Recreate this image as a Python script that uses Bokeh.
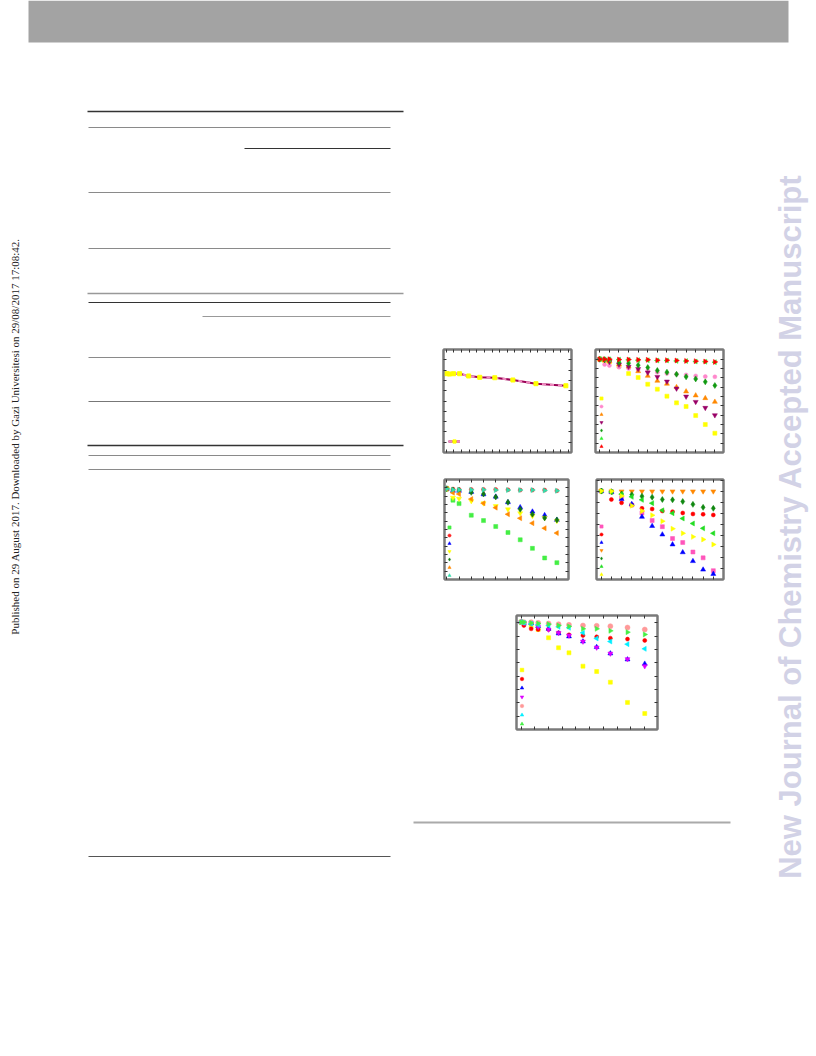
import math
from bokeh.plotting import figure
from bokeh.models import (Range1d, LinearAxis, FixedTicker, Legend, LegendItem,
                          Spacer, CustomJSTickFormatter)
from bokeh.layouts import column, row
from bokeh.embed import file_html
from bokeh.resources import INLINE
from bokeh.core.properties import value

# ---------------- data ----------------
# panel 1
p1_x = [0.09, 0.44, 0.96, 1.75, 2.94, 4.39, 6.36, 8.73, 11.75, 15.66]
p1_y = [0.765, 0.762, 0.765, 0.765, 0.743, 0.730, 0.726, 0.704, 0.668, 0.648]

# panel 2
p2_x = [0, 0.5, 1, 2, 3, 4, 5, 6, 7, 8, 9, 10, 11, 12]
p2_yellow = [100, 98.6, 97.1, 92.5, 84.6, 80.4, 73.2, 67.9, 60.4, 53.2, 49.3, 39.6, 30.0, 20.7]
p2_pink = [100, 94.3, 93.2, 91.4, 90.0, 88.9, 87.5, 86.0, 84.6, 83.9, 83.2, 82.1, 81.4, 81.1]
p2_orange = [100, 99.0, 97.9, 94.3, 92.1, 87.1, 82.1, 76.8, 73.6, 70.0, 65.4, 61.1, 58.2, 54.3]
p2_purple = [100, 99.0, 97.1, 94.3, 92.0, 89.6, 85.7, 81.1, 76.1, 68.6, 60.0, 54.3, 47.9, 40.0]
p2_dkgreen = [100, 99.6, 99.3, 96.8, 95.7, 93.6, 91.1, 87.9, 86.1, 83.9, 81.1, 78.9, 75.7, 71.8]
p2_ltgreen = [100, 99.8, 99.8, 99.6, 99.3, 99.0, 98.9, 98.6, 98.6, 98.2, 98.0, 97.5, 97.3, 96.8]
p2_red = [100, 100, 100, 99.6, 99.6, 99.3, 99.3, 98.9, 98.9, 98.6, 98.2, 97.9, 97.5, 97.1]

# panel 3
p3_x = [0, 0.5, 1, 2, 3, 4, 5, 6, 7, 8, 9]
p3_ltgreen = [10.87, 9.50, 9.09, 7.70, 7.06, 6.35, 5.63, 4.76, 3.73, 2.58, 2.02]
p3_red = [10.87, 10.83, 10.79, 10.79, 10.79, 10.79, 10.75, 10.71, 10.71, 10.71, 10.63]
p3_blue = [10.87, 10.63, 10.63, 10.48, 10.20, 9.92, 9.25, 8.65, 8.13, 7.70, 7.14]
p3_yellow = [10.87, 9.80, 9.68, 9.40, 9.13, 8.80, 8.41, 7.94, 7.62, 7.38, 7.02]
p3_dkgreen = [10.87, 10.71, 10.67, 10.44, 10.24, 9.88, 9.25, 8.41, 7.82, 7.38, 7.14]
p3_orange = [10.87, 10.40, 10.24, 9.64, 9.13, 8.61, 7.82, 7.34, 6.75, 6.15, 5.56]
p3_teal = [10.87, 10.75, 10.75, 10.75, 10.75, 10.71, 10.71, 10.71, 10.71, 10.67, 10.63]

# panel 4
p4_x = [0, 1, 2, 3, 4, 5, 6, 7, 8, 9, 10, 11]
p4_pink = [8.0, 7.92, 7.39, 6.74, 6.02, 5.34, 4.78, 3.71, 3.35, 2.49, 1.96, 0.80]
p4_red = [8.0, 7.24, 6.94, 6.74, 6.44, 6.38, 6.20, 6.14, 6.02, 5.93, 5.90, 5.84]
p4_blue = [8.0, 7.92, 7.27, 6.83, 5.67, 4.84, 4.07, 3.17, 2.46, 1.66, 0.89, 0.50]
p4_orange = [8.0, 7.98, 7.98, 7.98, 7.98, 7.98, 7.98, 7.98, 7.98, 7.98, 7.98, 7.98]
p4_dkgreen = [8.0, 7.95, 7.74, 7.68, 7.54, 7.45, 7.24, 7.21, 7.06, 6.80, 6.53, 6.44]
p4_ltgreen = [8.0, 7.92, 7.72, 7.48, 7.21, 6.91, 6.26, 5.99, 5.52, 5.07, 4.63, 4.18]
p4_yellow = [8.0, 7.98, 7.56, 6.68, 6.20, 5.82, 5.28, 4.60, 4.18, 3.86, 3.62, 3.17]

# panel 5
p5_x = [0, 0.2, 0.73, 1.24, 2, 2.73, 3.49, 4.51, 5.51, 6.51, 7.76, 9.02]
p5_yellow = [8.05, 8.0, 7.78, 7.5, 6.88, 6.13, 5.75, 4.75, 4.35, 3.55, 2.03, 1.20]
p5_red = [8.05, 7.8, 7.55, 7.5, 7.5, 7.25, 7.1, 7.05, 6.95, 6.85, 6.78, 6.68]
p5_blue = [8.05, 8.0, 7.98, 7.75, 7.55, 7.2, 6.98, 6.6, 6.18, 5.7, 5.25, 4.93]
p5_magenta = [8.05, 8.0, 7.98, 7.7, 7.5, 7.25, 7.05, 6.6, 6.15, 5.7, 5.28, 4.75]
p5_salmon = [8.05, 8.05, 8.05, 8.0, 7.95, 7.9, 7.85, 7.8, 7.78, 7.75, 7.65, 7.5]
p5_cyan = [8.05, 8.0, 7.93, 7.85, 7.8, 7.7, 7.63, 7.25, 6.83, 6.6, 6.4, 6.05]
p5_ltgreen = [8.05, 8.05, 7.98, 7.95, 7.9, 7.8, 7.73, 7.55, 7.55, 7.4, 7.3, 7.13]

side_note = "Published on 29 August 2017. Downloaded by Gazi Universitesi on 29/08/2017 17:08:42."
watermark = "New Journal of Chemistry Accepted Manuscript"

# ---------------- helpers ----------------
RT = -math.pi / 2   # right pointing triangle
LT = math.pi / 2    # left pointing triangle


def panel(width, height, borders, xr, yr, xticks, yticks):
    l, r, t, b = borders
    p = figure(width=width, height=height, x_range=Range1d(*xr), y_range=Range1d(*yr),
               output_backend="svg", toolbar_location=None, tools="",
               min_border_left=l, min_border_right=r, min_border_top=t, min_border_bottom=b)
    p.add_layout(LinearAxis(), "above")
    p.add_layout(LinearAxis(), "right")
    for ax in p.xaxis:
        ax.ticker = FixedTicker(ticks=xticks)
    for ax in p.yaxis:
        ax.ticker = FixedTicker(ticks=yticks)
    for ax in p.axis:
        ax.formatter = CustomJSTickFormatter(code="return ''")
        ax.major_label_standoff = 0
        ax.major_label_text_font_size = "1px"
        ax.major_tick_in = 3
        ax.major_tick_out = 0
        ax.minor_tick_in = 0
        ax.minor_tick_out = 0
        ax.axis_line_color = "#7a7a7a"
        ax.axis_line_width = 2
        ax.major_tick_line_color = "#333333"
    p.xgrid.visible = False
    p.ygrid.visible = False
    p.outline_line_color = "#7a7a7a"
    p.outline_line_width = 2
    p.background_fill_color = "white"
    p.border_fill_color = "white"
    return p


def add_series(p, x, specs, loc, gh):
    items = []
    for ys, color, marker, ang, sz in specs:
        r = p.scatter(x, ys, marker=marker, angle=ang, size=sz,
                      fill_color=color, line_color=color, line_width=0.5)
        items.append(LegendItem(label="", renderers=[r]))
    lg = Legend(items=items, location=loc, glyph_width=gh, glyph_height=gh,
                label_height=gh, label_width=0, label_standoff=0, spacing=0,
                padding=0, margin=0, border_line_color=None,
                background_fill_alpha=0, label_text_font_size="6px")
    p.add_layout(lg)


# ---------------- panel 1 ----------------
f1 = panel(170, 130, (33, 9, 14, 13), (-0.35, 16.4), (0, 1),
           list(range(0, 17)), [i / 10 for i in range(1, 10)])
l1 = f1.line(p1_x, p1_y, line_color="#990055", line_width=2)
l2 = f1.line(p1_x, p1_y, line_color="#f08cc0", line_width=2, line_dash="4 4")
s1 = f1.scatter(p1_x, p1_y, marker="square", size=4, fill_color="#ffff00", line_color="#ffff00")
lg1 = Legend(items=[LegendItem(label="", renderers=[l1, l2, s1])], location=(5, 7),
             glyph_width=12, glyph_height=8, label_height=8, label_width=0,
             label_standoff=0, spacing=0, padding=0, margin=0, border_line_color=None,
             background_fill_alpha=0, label_text_font_size="6px")
f1.add_layout(lg1)

# ---------------- panel 2 ----------------
f2 = panel(150, 130, (15, 7, 14, 13), (-0.45, 12.9), (0, 110.4),
           list(range(0, 13)), list(range(10, 101, 10)))
add_series(f2, p2_x, [
    (p2_yellow, "#ffff00", "square", 0, 4),
    (p2_pink, "#ff88cc", "circle", 0, 4),
    (p2_orange, "#ff8800", "triangle", 0, 5),
    (p2_purple, "#990066", "inverted_triangle", 0, 5),
    (p2_dkgreen, "#119911", "diamond", 0, 6),
    (p2_ltgreen, "#33ee33", "triangle", LT, 5),
    (p2_red, "#ff0000", "triangle", RT, 5),
], (2, 2), 8)

# ---------------- panel 3 ----------------
f3 = panel(170, 135, (34, 12, 14, 20), (-0.19, 9.95), (0, 11.98),
           list(range(0, 10)), list(range(1, 12)))
add_series(f3, p3_x, [
    (p3_ltgreen, "#44ee44", "square", 0, 4),
    (p3_red, "#ff2222", "circle", 0, 4),
    (p3_blue, "#0000ff", "triangle", 0, 5),
    (p3_yellow, "#ffff00", "inverted_triangle", 0, 5),
    (p3_dkgreen, "#117711", "diamond", 0, 6),
    (p3_orange, "#ff8800", "triangle", LT, 5),
    (p3_teal, "#33ddaa", "triangle", RT, 5),
], (1, 0), 8)

# ---------------- panel 4 ----------------
f4 = panel(150, 135, (16, 7, 12, 21), (-0.46, 12.0), (0, 9.05),
           list(range(0, 12)), list(range(1, 10)))
add_series(f4, p4_x, [
    (p4_pink, "#ff55bb", "square", 0, 4),
    (p4_red, "#ff0000", "circle", 0, 4),
    (p4_blue, "#0000ff", "triangle", 0, 5),
    (p4_orange, "#ff8800", "inverted_triangle", 0, 5),
    (p4_dkgreen, "#118811", "diamond", 0, 6),
    (p4_ltgreen, "#22dd22", "triangle", LT, 5),
    (p4_yellow, "#ffff00", "triangle", RT, 5),
], (1, 1), 8)

# ---------------- panel 5 ----------------
f5 = panel(170, 150, (16, 13, 15, 21), (-0.34, 9.95), (0, 8.55),
           list(range(0, 10)), list(range(1, 9)))
add_series(f5, p5_x, [
    (p5_yellow, "#ffff00", "square", 0, 4),
    (p5_red, "#ff0000", "circle", 0, 4),
    (p5_blue, "#0000ff", "triangle", 0, 5),
    (p5_magenta, "#dd00ff", "inverted_triangle", 0, 5),
    (p5_salmon, "#ff9999", "circle", 0, 5),
    (p5_cyan, "#00eeff", "triangle", LT, 5),
    (p5_ltgreen, "#44ee44", "triangle", RT, 5),
], (1, 1), 9)


# ---------------- page decoration ----------------
def canvas(w, h, xr, yr, **kw):
    c = figure(width=w, height=h, x_range=Range1d(*xr), y_range=Range1d(*yr),
               output_backend="svg", toolbar_location=None, tools="",
               min_border=0, **kw)
    c.axis.visible = False
    c.xgrid.visible = False
    c.ygrid.visible = False
    c.outline_line_color = None
    c.background_fill_color = "white"
    c.border_fill_color = "white"
    return c


header = canvas(816, 43, (0, 816), (43, 0))
header.quad(left=[28], right=[788], top=[0], bottom=[42], fill_color="#a3a3a3", line_color=None)

left = canvas(410, 1005, (0, 410), (1048, 43))
rule_x0 = [87, 88, 244, 88, 88, 87, 88, 202, 88, 88, 87, 88, 88, 88]
rule_x1 = [403, 390, 390, 390, 390, 403, 390, 390, 390, 390, 403, 390, 390, 390]
rule_y = [111, 127, 148, 192, 248, 293, 302, 316, 357, 401, 445, 455, 469, 856]
rule_c = ["#333333", "#8a8a8a", "#333333", "#8a8a8a", "#8a8a8a", "#999999", "#333333",
          "#999999", "#8a8a8a", "#777777", "#333333", "#8a8a8a", "#8a8a8a", "#555555"]
rule_w = [1.5, 1, 1, 1, 1, 1.5, 1, 1, 1, 1, 1.5, 1, 1, 1]
left.segment(x0=rule_x0, y0=rule_y, x1=rule_x1, y1=rule_y, line_color=rule_c, line_width=rule_w)
left.text(x=[14], y=[436], text=[side_note], angle=math.pi / 2, text_align="center",
          text_baseline="middle", text_font=value("Liberation Serif"),
          text_font_size="11px", text_color="#222222")

wm = canvas(46, 1005, (770, 816), (1048, 43))
wm.text(x=[790], y=[526], text=[watermark], angle=math.pi / 2, text_align="center",
        text_baseline="middle", text_font=value("Liberation Sans"), text_font_style="bold",
        text_font_size="31px", text_color="#d2d2e6")

bline = canvas(360, 14, (410, 770), (829, 815))
bline.segment(x0=[413], y0=[822], x1=[730], y1=[822], line_color="#aaaaaa", line_width=2)

right = column(
    Spacer(width=360, height=292),
    row(f1, f2, Spacer(width=40, height=130)),
    row(f3, f4, Spacer(width=40, height=135)),
    row(Spacer(width=90, height=150), f5, Spacer(width=100, height=150)),
    Spacer(width=360, height=65),
    bline,
)

page = column(header, row(left, right, wm))

open("out.html", "w").write(file_html(page, INLINE))
